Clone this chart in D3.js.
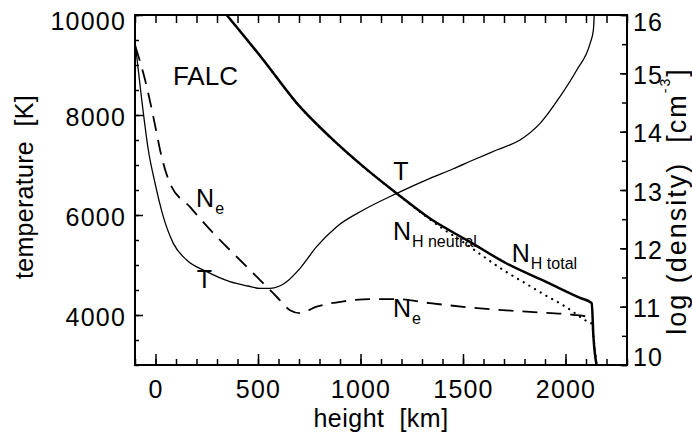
<!DOCTYPE html>
<html><head><meta charset="utf-8">
<script src="https://cdn.jsdelivr.net/npm/d3@7"></script>
<style>
html,body{margin:0;padding:0;background:#fff;}
svg{display:block;font-family:"Liberation Sans",Arial,Helvetica,sans-serif;}
text{white-space:pre;}
</style></head><body>
<svg id="chart" width="692" height="435"></svg>
<script>
// ---- data ----
const heightT = [-98,-67,-35,-2,38,87,152,250,363,450,510,559,600,640,705,786,884,1014,1177,1339,1450,1550,1664,1778,1876,1973,2055,2120,2136,2140];
const tempT   = [9400,8300,7300,6633,5967,5433,5100,4867,4667,4580,4533,4533,4570,4667,4933,5367,5767,6100,6433,6733,6920,7100,7300,7500,7833,8367,8900,9433,9700,10000];

const heightNe = [-98,-51,6,22,71,168,282,412,526,591,656,705,786,916,1046,1177,1339,1583,1827,2038,2103,2130];
const logNe    = [15.46,14.89,13.97,13.69,13.11,12.71,12.26,11.80,11.40,11.17,10.94,10.89,11.00,11.09,11.13,11.13,11.06,10.97,10.91,10.86,10.83,10.80];

const heightNHtotal = [347,526,689,851,1014,1177,1339,1534,1713,1908,2071,2128,2136,2152];
const logNHtotal    = [16.00,15.23,14.49,13.91,13.40,12.94,12.51,12.11,11.74,11.42,11.15,11.06,10.50,9.99];

const heightNHneutral = [347,526,689,851,1014,1177,1300,1400,1500,1600,1700,1800,1900,2000,2100,2130,2136,2152];
const logNHneutral    = [16.00,15.23,14.49,13.91,13.40,12.94,12.60,12.34,12.11,11.86,11.62,11.41,11.20,11.00,10.76,10.70,10.50,9.99];

const xTickValues    = [0,500,1000,1500,2000];
const tempTickValues = [4000,6000,8000,10000];
const densTickValues = [10,11,12,13,14,15,16];

// annotations: main text, subscript, height (km), temperature (K)
const annoMain = ["FALC","N","T","T","N","N","N"];
const annoSub  = ["","e","","","H neutral","H total","e"];
const annoH    = [85,198,201,1160,1158,1738,1158];
const annoTemp = [8600,6167,4533,6700,5500,5067,3960];

// ---- layout ----
const L=135, R=627, T=15, B=365;
const svg = d3.select("#chart");
const x  = d3.scaleLinear().domain([-100,2300]).range([L,R]);
const yT = d3.scaleLinear().domain([3000,10000]).range([B,T]);
const yD = d3.scaleLinear().domain([10,16]).range([B,T]);

const xMinor = x.ticks(24);
const tMinor = yT.ticks(14);
const dMinor = yD.ticks(12);

function clean(g){ g.select(".domain").remove(); g.selectAll("line").attr("stroke","#000").attr("stroke-width",1.5); g.attr("font-family",null).attr("font-size",null); }

// bottom axis
svg.append("g").attr("transform",`translate(0,${B})`)
  .call(d3.axisBottom(x).tickValues(xMinor).tickSize(-6).tickFormat("")).call(clean);
const gb = svg.append("g").attr("transform",`translate(0,${B})`)
  .call(d3.axisBottom(x).tickValues(xTickValues).tickSize(-11).tickPadding(15).tickFormat(d3.format("d"))).call(clean);
gb.selectAll("text").attr("font-size",25).attr("letter-spacing","1.2px").attr("fill","#000");

// top axis
svg.append("g").attr("transform",`translate(0,${T})`)
  .call(d3.axisTop(x).tickValues(xMinor).tickSize(-8).tickFormat("")).call(clean);

// left axis
svg.append("g").attr("transform",`translate(${L},0)`)
  .call(d3.axisLeft(yT).tickValues(tMinor).tickSize(-4).tickFormat("")).call(clean);
const gl = svg.append("g").attr("transform",`translate(${L},0)`)
  .call(d3.axisLeft(yT).tickValues(tempTickValues).tickSize(-8).tickPadding(9).tickFormat(d3.format("d"))).call(clean);
gl.selectAll("text").attr("font-size",25).attr("letter-spacing","1.2px").attr("fill","#000")
  .attr("dy",null).attr("y",d=>Math.max(yT(d)+10,T+14)-yT(d));

// right axis
svg.append("g").attr("transform",`translate(${R},0)`)
  .call(d3.axisRight(yD).tickValues(dMinor).tickSize(-5).tickFormat("")).call(clean);
const gr = svg.append("g").attr("transform",`translate(${R},0)`)
  .call(d3.axisRight(yD).tickValues(densTickValues).tickSize(-7).tickPadding(6).tickFormat(d3.format("d"))).call(clean);
gr.selectAll("text").attr("font-size",25).attr("letter-spacing","1.2px").attr("fill","#000")
  .attr("dy",null).attr("y",d=>Math.min(Math.max(yD(d)+10,T+15),B)-yD(d));

// frame
svg.append("rect").attr("x",L).attr("y",T).attr("width",R-L).attr("height",B-T)
  .attr("fill","none").attr("stroke","#000").attr("stroke-width",2);

// clip
svg.append("clipPath").attr("id","clip").append("rect").attr("x",L).attr("y",T).attr("width",R-L).attr("height",B-T);
const plot = svg.append("g").attr("clip-path","url(#clip)");

const curve = d3.curveMonotoneX;
const lineT = d3.line().x((d,i)=>x(heightT[i])).y(d=>yT(d)).curve(curve);
const lineNe = d3.line().x((d,i)=>x(heightNe[i])).y(d=>yD(d)).curve(curve);
const lineNt = d3.line().x((d,i)=>x(heightNHtotal[i])).y(d=>yD(d)).curve(curve);
const lineNn = d3.line().x((d,i)=>x(heightNHneutral[i])).y(d=>yD(d)).curve(curve);

plot.append("path").attr("d",lineNn(logNHneutral)).attr("fill","none").attr("stroke","#000")
  .attr("stroke-width",2.2).attr("stroke-linecap","round").attr("stroke-dasharray","0.1,6.5");
plot.append("path").attr("d",lineNt(logNHtotal)).attr("fill","none").attr("stroke","#000").attr("stroke-width",2.5);
plot.append("path").attr("d",lineNe(logNe)).attr("fill","none").attr("stroke","#000")
  .attr("stroke-width",1.8).attr("stroke-dasharray","15,9");
plot.append("path").attr("d",lineT(tempT)).attr("fill","none").attr("stroke","#000").attr("stroke-width",1.3);

// annotations
annoMain.forEach((m,i)=>{
  const t = svg.append("text").attr("x",x(annoH[i])).attr("y",yT(annoTemp[i]))
    .attr("font-size", m==="FALC"?26:25).attr("fill","#000");
  t.append("tspan").text(m);
  if(annoSub[i]) t.append("tspan").attr("dy",7).attr("dx",1).attr("font-size",16).text(annoSub[i]);
});

// axis titles
svg.append("text").attr("x",(L+R)/2).attr("y",427).attr("text-anchor","middle")
  .attr("font-size",25).attr("letter-spacing","0.5px").text("height  [km]");
svg.append("text").attr("transform",`translate(33,187) rotate(-90)`).attr("text-anchor","middle")
  .attr("font-size",25).attr("letter-spacing","0.3px").text("temperature  [K]");
const rt = svg.append("text").attr("transform",`translate(686,201) rotate(-90)`).attr("text-anchor","middle")
  .attr("font-size",27).attr("letter-spacing","2px");
rt.append("tspan").text("log (density)  [cm");
rt.append("tspan").attr("dy",-16).attr("font-size",14).text("-3");
rt.append("tspan").attr("dy",16).text("]");
</script>
</body></html>
